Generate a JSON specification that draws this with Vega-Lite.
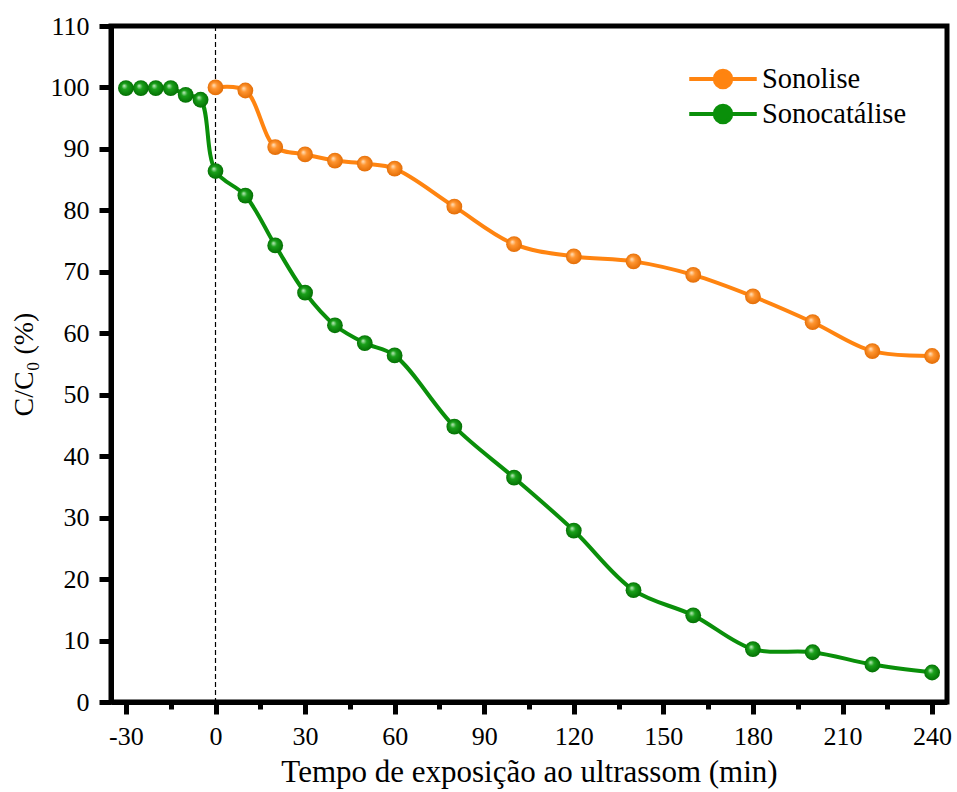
{
  "$schema": "https://vega.github.io/schema/vega-lite/v6.json",
  "autosize": {"type": "none"},
  "padding": {"left": 111, "top": 26, "right": 10, "bottom": 90},
  "width": 836,
  "height": 676,
  "background": "white",
  "config": {
    "view": {"stroke": "black", "strokeWidth": 5},
    "font": "Liberation Serif",
    "axis": {
      "domainColor": "black", "domainWidth": 5,
      "tickColor": "black", "tickWidth": 5,
      "labelFont": "Liberation Serif", "labelFontSize": 26, "labelColor": "black",
      "titleFont": "Liberation Serif", "titleFontWeight": "normal", "titleColor": "black",
      "grid": false
    }
  },
  "datasets": {
    "series": [
      {"t": 0, "v": 100.0, "s": "Sonolise"},
      {"t": 10, "v": 99.5, "s": "Sonolise"},
      {"t": 20, "v": 90.3, "s": "Sonolise"},
      {"t": 30, "v": 89.1, "s": "Sonolise"},
      {"t": 40, "v": 88.1, "s": "Sonolise"},
      {"t": 50, "v": 87.6, "s": "Sonolise"},
      {"t": 60, "v": 86.8, "s": "Sonolise"},
      {"t": 80, "v": 80.6, "s": "Sonolise"},
      {"t": 100, "v": 74.5, "s": "Sonolise"},
      {"t": 120, "v": 72.5, "s": "Sonolise"},
      {"t": 140, "v": 71.7, "s": "Sonolise"},
      {"t": 160, "v": 69.5, "s": "Sonolise"},
      {"t": 180, "v": 66.0, "s": "Sonolise"},
      {"t": 200, "v": 61.8, "s": "Sonolise"},
      {"t": 220, "v": 57.1, "s": "Sonolise"},
      {"t": 240, "v": 56.3, "s": "Sonolise"},
      {"t": -30, "v": 99.9, "s": "Sonocatálise"},
      {"t": -25, "v": 99.9, "s": "Sonocatálise"},
      {"t": -20, "v": 99.9, "s": "Sonocatálise"},
      {"t": -15, "v": 99.9, "s": "Sonocatálise"},
      {"t": -10, "v": 98.8, "s": "Sonocatálise"},
      {"t": -5, "v": 98.0, "s": "Sonocatálise"},
      {"t": 0, "v": 86.4, "s": "Sonocatálise"},
      {"t": 10, "v": 82.4, "s": "Sonocatálise"},
      {"t": 20, "v": 74.3, "s": "Sonocatálise"},
      {"t": 30, "v": 66.6, "s": "Sonocatálise"},
      {"t": 40, "v": 61.3, "s": "Sonocatálise"},
      {"t": 50, "v": 58.4, "s": "Sonocatálise"},
      {"t": 60, "v": 56.4, "s": "Sonocatálise"},
      {"t": 80, "v": 44.8, "s": "Sonocatálise"},
      {"t": 100, "v": 36.5, "s": "Sonocatálise"},
      {"t": 120, "v": 27.9, "s": "Sonocatálise"},
      {"t": 140, "v": 18.2, "s": "Sonocatálise"},
      {"t": 160, "v": 14.1, "s": "Sonocatálise"},
      {"t": 180, "v": 8.6, "s": "Sonocatálise"},
      {"t": 200, "v": 8.1, "s": "Sonocatálise"},
      {"t": 220, "v": 6.1, "s": "Sonocatálise"},
      {"t": 240, "v": 4.8, "s": "Sonocatálise"}
    ]
  },
  "encoding": {
    "x": {
      "field": "t", "type": "quantitative",
      "scale": {"domain": [-35, 245], "nice": false, "zero": false},
      "axis": {
        "title": "Tempo de exposição ao ultrassom (min)",
        "titleFontSize": 31, "titlePadding": 8,
        "values": [-30, -15, 0, 15, 30, 45, 60, 75, 90, 105, 120, 135, 150, 165, 180, 195, 210, 225, 240],
        "labelExpr": "datum.value % 30 === 0 ? '' + datum.value : ''",
        "labelFont": "Liberation Serif",
        "tickSize": {"condition": {"test": "datum.value % 30 === 0", "value": 12}, "value": 7},
        "labelPadding": 9
      }
    },
    "y": {
      "field": "v", "type": "quantitative",
      "scale": {"domain": [0, 110], "nice": false},
      "axis": {
        "title": "C/C₀ (%)",
        "titleFontSize": 28, "titlePadding": 12,
        "labelFont": "Liberation Serif",
        "values": [0, 10, 20, 30, 40, 50, 60, 70, 80, 90, 100, 110],
        "tickSize": 12, "labelPadding": 10
      }
    }
  },
  "layer": [
    {
      "data": {"values": [{"t": 0}]},
      "mark": {"type": "rule", "color": "black", "strokeWidth": 1.2, "strokeDash": [5, 3]},
      "encoding": {"x": {"field": "t", "type": "quantitative"}, "y": null}
    },
    {
      "data": {"name": "series"},
      "mark": {"type": "line", "interpolate": "catmull-rom", "strokeWidth": 4},
      "encoding": {
        "color": {
          "field": "s", "type": "nominal",
          "scale": {"domain": ["Sonolise", "Sonocatálise"], "range": ["#FF8410", "#0A8F0A"]},
          "legend": {
            "title": null,
            "orient": "none", "legendX": 595, "legendY": 36,
            "symbolType": "M-2.25,0H2.25M0.55,0A0.55,0.55,0,1,1,-0.55,0A0.55,0.55,0,1,1,0.55,0Z",
            "symbolSize": 900, "symbolStrokeWidth": 4,
            "labelFont": "Liberation Serif", "labelFontSize": 28.5, "labelColor": "black",
            "labelOffset": 22, "rowPadding": 1, "padding": 0,
            "encode": {"symbols": {"update": {"fill": {"scale": "color", "field": "value"}, "fillOpacity": {"value": 1}}}}
          }
        }
      }
    },
    {
      "data": {"name": "series"},
      "transform": [{"filter": "datum.s === 'Sonolise'"}],
      "mark": {
        "type": "point", "filled": true, "size": 250, "opacity": 1,
        "fill": {"gradient": "radial", "x1": 0.38, "y1": 0.35, "r1": 0, "x2": 0.5, "y2": 0.5, "r2": 0.55,
                 "stops": [{"offset": 0, "color": "#FFE6C8"}, {"offset": 0.35, "color": "#FF9530"}, {"offset": 1, "color": "#E06800"}]}
      }
    },
    {
      "data": {"name": "series"},
      "transform": [{"filter": "datum.s === 'Sonocatálise'"}],
      "mark": {
        "type": "point", "filled": true, "size": 250, "opacity": 1,
        "fill": {"gradient": "radial", "x1": 0.38, "y1": 0.35, "r1": 0, "x2": 0.5, "y2": 0.5, "r2": 0.55,
                 "stops": [{"offset": 0, "color": "#C8F0C8"}, {"offset": 0.35, "color": "#1AA01A"}, {"offset": 1, "color": "#006A00"}]}
      }
    }
  ]
}
